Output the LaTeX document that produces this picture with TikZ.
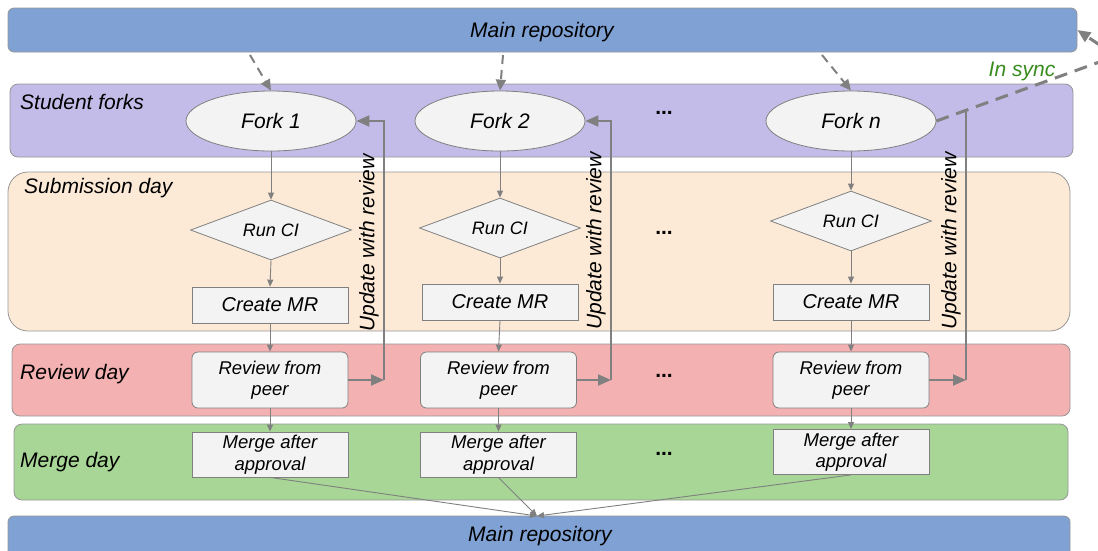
\documentclass[tikz,border=0pt]{standalone}
\usepackage{fontspec}
\setmainfont{Liberation Sans}
\usetikzlibrary{shapes.geometric,arrows.meta,calc}
\definecolor{repoblue}{RGB}{127,161,212}
\definecolor{forkband}{RGB}{195,187,232}
\definecolor{subband}{RGB}{252,234,215}
\definecolor{revband}{RGB}{243,177,177}
\definecolor{mergeband}{RGB}{168,214,150}
\definecolor{boxfill}{RGB}{243,243,243}
\definecolor{edgegray}{RGB}{128,128,128}
\definecolor{bandline}{RGB}{150,150,150}
\definecolor{syncgreen}{RGB}{56,140,30}
\begin{document}
\begin{tikzpicture}[x=1pt,y=-1pt,
  txt/.style={font=\itshape\fontsize{#1}{21.5}\selectfont},
  txt/.default=20,
  band/.style={draw=bandline, line width=0.8pt},
  bandlabel/.style={txt=21, anchor=west, inner sep=0pt},
  forknode/.style={ellipse, draw=edgegray, fill=boxfill, line width=0.8pt,
    minimum width=170pt, minimum height=60pt, inner sep=0pt, txt=21},
  cinode/.style={diamond, draw=edgegray, fill=boxfill, line width=0.8pt,
    minimum width=161pt, minimum height=60pt, inner sep=0pt, aspect=2.7, txt=18},
  mrnode/.style={rectangle, draw=edgegray, fill=boxfill, line width=0.8pt,
    minimum width=156pt, minimum height=36pt, inner sep=0pt, txt=20},
  revnode/.style={rectangle, rounded corners=6pt, draw=edgegray, fill=boxfill, line width=0.8pt,
    minimum width=156pt, minimum height=56pt, inner sep=0pt, txt=18.5, align=center},
  mergenode/.style={rectangle, draw=edgegray, fill=boxfill, line width=0.8pt,
    minimum width=156pt, minimum height=45pt, inner sep=0pt, txt=18.5, align=center},
  dotsnode/.style={font=\bfseries\fontsize{21}{21}\selectfont, inner sep=0pt},
  flow/.style={draw=edgegray, line width=0.9pt, -{Triangle[length=7pt,width=6pt]}},
  update/.style={draw=edgegray, line width=2pt},
  updatearrow/.style={update, -{Triangle[length=13pt,width=11pt]}},
  fetch/.style={draw=edgegray, line width=2pt, dash pattern=on 9pt off 6pt,
    -{Triangle[length=11pt,width=10pt]}},
  sync/.style={draw=edgegray, line width=3pt, dash pattern=on 13pt off 8pt,
    -{Triangle[length=13pt,width=11pt]}}
]
\useasboundingbox (0,0) rectangle (1098,550);
\clip (0,0) rectangle (1098,550);

% swim-lane bands
\filldraw[band, fill=forkband, rounded corners=8pt] (10,84) rectangle (1073,157);
\filldraw[band, fill=subband, rounded corners=20pt] (8,172) rectangle (1070,331);
\filldraw[band, fill=revband, rounded corners=8pt] (12,344) rectangle (1070,416);
\filldraw[band, fill=mergeband, rounded corners=8pt] (14,424) rectangle (1068,500);

% repository bars
\node[band, fill=repoblue, rounded corners=6pt, rectangle, minimum width=1069pt,
  minimum height=44pt, inner sep=0pt] (mainTop) at (542.5,30) {};
\node[txt=21, inner sep=0pt] (mainTopLabel) at (542,32) {Main repository};
\node[band, fill=repoblue, rounded corners=6pt, rectangle, minimum width=1062pt,
  minimum height=60pt, inner sep=0pt] (mainBot) at (539,546) {};
\node[txt=21, inner sep=0pt] (mainBotLabel) at (540,536) {Main repository};

% lane labels
\node[bandlabel] (lblForks) at (20,102) {Student forks};
\node[bandlabel] (lblSub) at (24,188) {Submission day};
\node[bandlabel] (lblRev) at (20,374) {Review day};
\node[bandlabel] (lblMerge) at (20,462) {Merge day};

% column 1
\node[forknode] (f1) at (271,121) {Fork 1};
\node[cinode] (c1) at (271,230) {Run CI};
\node[mrnode] (m1) at (270,305) {Create MR};
\node[revnode] (r1) at (270,380) {Review from\\peer};
\node[mergenode] (g1) at (270,454.5) {Merge after\\approval};

% column 2
\node[forknode] (f2) at (500,121) {Fork 2};
\node[cinode] (c2) at (500,228) {Run CI};
\node[mrnode] (m2) at (500,302) {Create MR};
\node[revnode] (r2) at (498.5,380) {Review from\\peer};
\node[mergenode] (g2) at (498.5,454.5) {Merge after\\approval};

% column n
\node[forknode] (fn) at (851,121) {Fork n};
\node[cinode] (cn) at (851,221) {Run CI};
\node[mrnode] (mn) at (851,302) {Create MR};
\node[revnode] (rn) at (851,380) {Review from\\peer};
\node[mergenode] (gn) at (851,452) {Merge after\\approval};

% ellipsis between columns
\node[dotsnode] (d1) at (664,113) {...};
\node[dotsnode] (d2) at (664,233) {...};
\node[dotsnode] (d3) at (664,376) {...};
\node[dotsnode] (d4) at (664,454) {...};

% flow inside each column
\foreach \c in {1,2,n}{
  \draw[flow] (f\c.south) -- (c\c.north);
  \draw[flow] (c\c.south) -- (m\c.north);
  \draw[flow] (m\c.south) -- (r\c.north);
  \draw[flow] (r\c.south) -- (g\c.north);
}

% merges into the main repository
\coordinate (mergeIn) at (537,516);
\draw[flow] (g1.south) -- (mergeIn);
\draw[flow] (g2.south) -- (mergeIn);
\draw[flow] (gn.south) -- (mergeIn);

% forks taken from the main repository
\coordinate (src1) at (250,55);
\coordinate (src2) at (503,55);
\coordinate (srcn) at (822,55);
\draw[fetch] (src1) -- (f1.north);
\draw[fetch] (src2) -- (f2.north);
\draw[fetch] (srcn) -- (fn.north);

% review feedback loops
\coordinate (u1) at (384,380);
\coordinate (u2) at (611,380);
\coordinate (un) at (966,380);
\coordinate (unTop) at (966,110);
\draw[updatearrow] (r1.east) -- (u1);
\draw[updatearrow] (r2.east) -- (u2);
\draw[updatearrow] (rn.east) -- (un);
\draw[updatearrow] (u1) |- (f1.east);
\draw[updatearrow] (u2) |- (f2.east);
\draw[update] (un) -- (unTop);
\node[txt=21, rotate=90, anchor=south, inner sep=0pt] (t1) at (379,243) {Update with review};
\node[txt=21, rotate=90, anchor=south, inner sep=0pt] (t2) at (606,241) {Update with review};
\node[txt=21, rotate=90, anchor=south, inner sep=0pt] (tn) at (961,241) {Update with review};

% keeping forks in sync with the main repository
\coordinate (syncCorner) at (1116,56);
\draw[sync] (fn.east) -- (syncCorner) -- (mainTop.east);
\node[txt=21, text=syncgreen, inner sep=0pt] (syncLabel) at (1022,71) {In sync};
\end{tikzpicture}
\end{document}
